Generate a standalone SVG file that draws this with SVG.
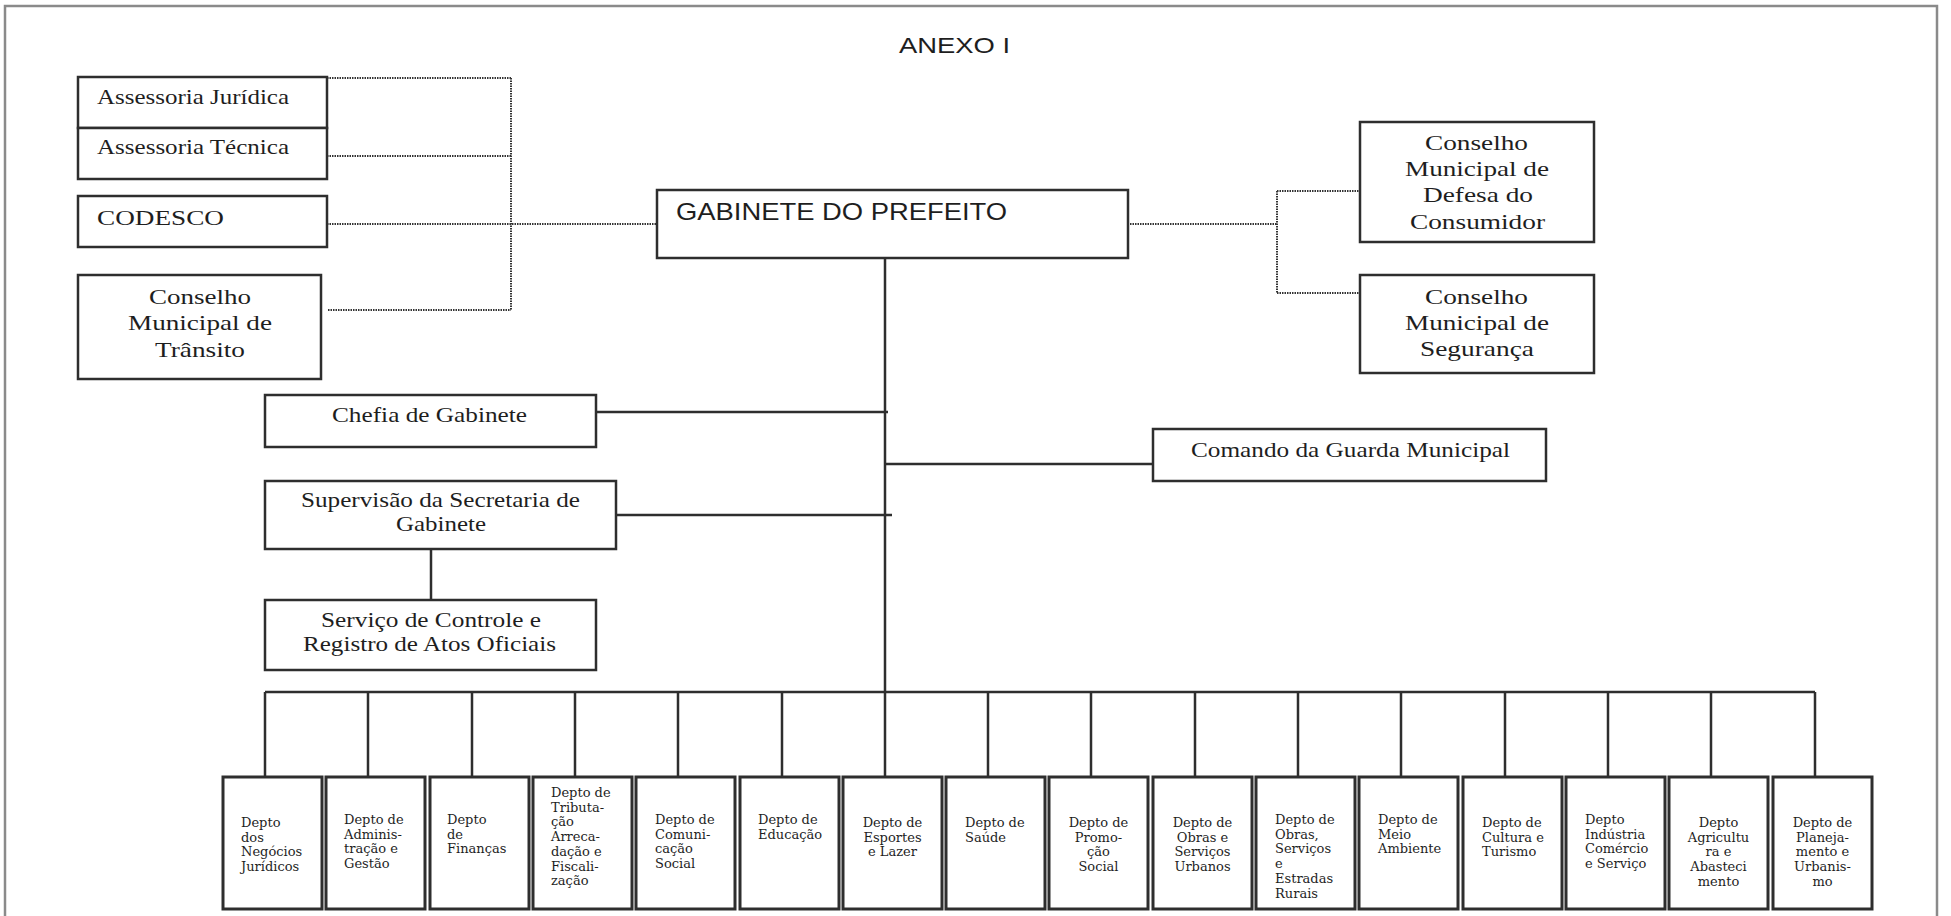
<svg xmlns="http://www.w3.org/2000/svg" width="1951" height="916" viewBox="0 0 1951 916">
  <style>
    .box { fill: #fff; stroke: #2e2e2e; stroke-width: 2.5; }
    .dep { fill: #fff; stroke: #2e2e2e; stroke-width: 3; }
    .line { fill: none; stroke: #2e2e2e; stroke-width: 2.5; }
    .dot { fill: none; stroke: #333; stroke-width: 2; stroke-dasharray: 1.5 1; }
    .serif { font-family: "Liberation Serif", "Times New Roman", serif; font-size: 22px; fill: #1e1e1e; }
    .sans { font-family: "Liberation Sans", Arial, sans-serif; fill: #1e1e1e; }
    .small { font-family: "DejaVu Serif", serif; font-size: 13px; fill: #1e1e1e; }
    .frame { fill: none; stroke: #8a8a8a; stroke-width: 2.5; }
  </style>

  <rect class="frame" x="5" y="6" width="1932" height="920"/>
  <text class="sans" x="899" y="53" font-size="22" textLength="111" lengthAdjust="spacingAndGlyphs">ANEXO I</text>

  <!-- connectors -->
  <g id="connectors">
    <!-- advisory bodies (dotted) -->
    <path class="dot" d="M327 78 H511 M327 156 H511 M327 224 H657 M328 310 H511 M511 78 V310"/>
    <path class="dot" d="M1130 224 H1277 M1277 191 V293 M1277 191 H1360 M1277 293 H1360"/>
    <!-- main trunk -->
    <path class="line" d="M885 258 V692"/>
    <path class="line" d="M596 412 H888"/>
    <path class="line" d="M885 464 H1153"/>
    <path class="line" d="M616 515 H892"/>
    <path class="line" d="M431 549 V600"/>
    <!-- department bus -->
    <path class="line" d="M265 692 H1815"/>
    <path class="line" d="M265 692 V777 M368 692 V777 M472 692 V777 M575 692 V777 M678 692 V777 M782 692 V777 M885 692 V777 M988 692 V777 M1091 692 V777 M1195 692 V777 M1298 692 V777 M1401 692 V777 M1505 692 V777 M1608 692 V777 M1711 692 V777 M1815 692 V777"/>
  </g>

  <!-- upper nodes -->
  <g id="assessoria-juridica">
    <rect class="box" x="78" y="77" width="249" height="51"/>
    <text class="serif" x="97" y="104" textLength="192" lengthAdjust="spacingAndGlyphs">Assessoria Jurídica</text>
  </g>
  <g id="assessoria-tecnica">
    <rect class="box" x="78" y="128" width="249" height="51"/>
    <text class="serif" x="97" y="154" textLength="192" lengthAdjust="spacingAndGlyphs">Assessoria Técnica</text>
  </g>
  <g id="codesco">
    <rect class="box" x="78" y="196" width="249" height="51"/>
    <text class="serif" x="97" y="225" textLength="127" lengthAdjust="spacingAndGlyphs">CODESCO</text>
  </g>
  <g id="conselho-transito">
    <rect class="box" x="78" y="275" width="243" height="104"/>
    <text class="serif" x="149" y="304" textLength="102" lengthAdjust="spacingAndGlyphs">Conselho</text>
    <text class="serif" x="128" y="330" textLength="144" lengthAdjust="spacingAndGlyphs">Municipal de</text>
    <text class="serif" x="155" y="357" textLength="90" lengthAdjust="spacingAndGlyphs">Trânsito</text>
  </g>
  <g id="gabinete-prefeito">
    <rect class="box" x="657" y="190" width="471" height="68"/>
    <text class="sans" x="676" y="220" font-size="24" textLength="331" lengthAdjust="spacingAndGlyphs">GABINETE DO PREFEITO</text>
  </g>
  <g id="conselho-consumidor">
    <rect class="box" x="1360" y="122" width="234" height="120"/>
    <text class="serif" x="1425" y="150" textLength="103" lengthAdjust="spacingAndGlyphs">Conselho</text>
    <text class="serif" x="1405" y="176" textLength="144" lengthAdjust="spacingAndGlyphs">Municipal de</text>
    <text class="serif" x="1423" y="202" textLength="110" lengthAdjust="spacingAndGlyphs">Defesa do</text>
    <text class="serif" x="1410" y="229" textLength="135" lengthAdjust="spacingAndGlyphs">Consumidor</text>
  </g>
  <g id="conselho-seguranca">
    <rect class="box" x="1360" y="275" width="234" height="98"/>
    <text class="serif" x="1425" y="304" textLength="103" lengthAdjust="spacingAndGlyphs">Conselho</text>
    <text class="serif" x="1405" y="330" textLength="144" lengthAdjust="spacingAndGlyphs">Municipal de</text>
    <text class="serif" x="1420" y="356" textLength="114" lengthAdjust="spacingAndGlyphs">Segurança</text>
  </g>
  <g id="chefia-gabinete">
    <rect class="box" x="265" y="395" width="331" height="52"/>
    <text class="serif" x="332" y="422" textLength="195" lengthAdjust="spacingAndGlyphs">Chefia de Gabinete</text>
  </g>
  <g id="comando-guarda">
    <rect class="box" x="1153" y="429" width="393" height="52"/>
    <text class="serif" x="1191" y="457" font-size="23" textLength="319" lengthAdjust="spacingAndGlyphs">Comando da Guarda Municipal</text>
  </g>
  <g id="supervisao-secretaria">
    <rect class="box" x="265" y="481" width="351" height="68"/>
    <text class="serif" x="301" y="507" textLength="279" lengthAdjust="spacingAndGlyphs">Supervisão da Secretaria de</text>
    <text class="serif" x="396" y="531" textLength="90" lengthAdjust="spacingAndGlyphs">Gabinete</text>
  </g>
  <g id="servico-controle">
    <rect class="box" x="265" y="600" width="331" height="70"/>
    <text class="serif" x="321" y="627" textLength="220" lengthAdjust="spacingAndGlyphs">Serviço de Controle e</text>
    <text class="serif" x="303" y="651" textLength="253" lengthAdjust="spacingAndGlyphs">Registro de Atos Oficiais</text>
  </g>

  <!-- departments -->
  <g id="depto-negocios-juridicos">
    <rect class="dep" x="223" y="777" width="99" height="132"/>
    <text class="small" x="241" y="827"><tspan x="241">Depto</tspan><tspan x="241" dy="14.7">dos</tspan><tspan x="241" dy="14.7">Negócios</tspan><tspan x="241" dy="14.7">Jurídicos</tspan></text>
  </g>
  <g id="depto-administracao">
    <rect class="dep" x="326" y="777" width="99" height="132"/>
    <text class="small" x="344" y="824"><tspan x="344">Depto de</tspan><tspan x="344" dy="14.7">Adminis-</tspan><tspan x="344" dy="14.7">tração e</tspan><tspan x="344" dy="14.7">Gestão</tspan></text>
  </g>
  <g id="depto-financas">
    <rect class="dep" x="430" y="777" width="99" height="132"/>
    <text class="small" x="447" y="824"><tspan x="447">Depto</tspan><tspan x="447" dy="14.7">de</tspan><tspan x="447" dy="14.7">Finanças</tspan></text>
  </g>
  <g id="depto-tributacao">
    <rect class="dep" x="533" y="777" width="99" height="132"/>
    <text class="small" x="551" y="797"><tspan x="551">Depto de</tspan><tspan x="551" dy="14.7">Tributa-</tspan><tspan x="551" dy="14.7">ção</tspan><tspan x="551" dy="14.7">Arreca-</tspan><tspan x="551" dy="14.7">dação e</tspan><tspan x="551" dy="14.7">Fiscali-</tspan><tspan x="551" dy="14.7">zação</tspan></text>
  </g>
  <g id="depto-comunicacao">
    <rect class="dep" x="636" y="777" width="99" height="132"/>
    <text class="small" x="655" y="824"><tspan x="655">Depto de</tspan><tspan x="655" dy="14.7">Comuni-</tspan><tspan x="655" dy="14.7">cação</tspan><tspan x="655" dy="14.7">Social</tspan></text>
  </g>
  <g id="depto-educacao">
    <rect class="dep" x="740" y="777" width="99" height="132"/>
    <text class="small" x="758" y="824"><tspan x="758">Depto de</tspan><tspan x="758" dy="14.7">Educação</tspan></text>
  </g>
  <g id="depto-esportes">
    <rect class="dep" x="843" y="777" width="99" height="132"/>
    <text class="small" text-anchor="middle" x="892.5" y="827"><tspan x="892.5">Depto de</tspan><tspan x="892.5" dy="14.7">Esportes</tspan><tspan x="892.5" dy="14.7">e Lazer</tspan></text>
  </g>
  <g id="depto-saude">
    <rect class="dep" x="946" y="777" width="99" height="132"/>
    <text class="small" x="965" y="827"><tspan x="965">Depto de</tspan><tspan x="965" dy="14.7">Saúde</tspan></text>
  </g>
  <g id="depto-promocao-social">
    <rect class="dep" x="1049" y="777" width="99" height="132"/>
    <text class="small" text-anchor="middle" x="1098.5" y="827"><tspan x="1098.5">Depto de</tspan><tspan x="1098.5" dy="14.7">Promo-</tspan><tspan x="1098.5" dy="14.7">ção</tspan><tspan x="1098.5" dy="14.7">Social</tspan></text>
  </g>
  <g id="depto-obras-urbanos">
    <rect class="dep" x="1153" y="777" width="99" height="132"/>
    <text class="small" text-anchor="middle" x="1202.5" y="827"><tspan x="1202.5">Depto de</tspan><tspan x="1202.5" dy="14.7">Obras e</tspan><tspan x="1202.5" dy="14.7">Serviços</tspan><tspan x="1202.5" dy="14.7">Urbanos</tspan></text>
  </g>
  <g id="depto-obras-rurais">
    <rect class="dep" x="1256" y="777" width="99" height="132"/>
    <text class="small" x="1275" y="824"><tspan x="1275">Depto de</tspan><tspan x="1275" dy="14.7">Obras,</tspan><tspan x="1275" dy="14.7">Serviços</tspan><tspan x="1275" dy="14.7">e</tspan><tspan x="1275" dy="14.7">Estradas</tspan><tspan x="1275" dy="14.7">Rurais</tspan></text>
  </g>
  <g id="depto-meio-ambiente">
    <rect class="dep" x="1359" y="777" width="99" height="132"/>
    <text class="small" x="1378" y="824"><tspan x="1378">Depto de</tspan><tspan x="1378" dy="14.7">Meio</tspan><tspan x="1378" dy="14.7">Ambiente</tspan></text>
  </g>
  <g id="depto-cultura">
    <rect class="dep" x="1463" y="777" width="99" height="132"/>
    <text class="small" x="1482" y="827"><tspan x="1482">Depto de</tspan><tspan x="1482" dy="14.7">Cultura e</tspan><tspan x="1482" dy="14.7">Turismo</tspan></text>
  </g>
  <g id="depto-industria">
    <rect class="dep" x="1566" y="777" width="99" height="132"/>
    <text class="small" x="1585" y="824"><tspan x="1585">Depto</tspan><tspan x="1585" dy="14.7">Indústria</tspan><tspan x="1585" dy="14.7">Comércio</tspan><tspan x="1585" dy="14.7">e Serviço</tspan></text>
  </g>
  <g id="depto-agricultura">
    <rect class="dep" x="1669" y="777" width="99" height="132"/>
    <text class="small" text-anchor="middle" x="1718.5" y="827"><tspan x="1718.5">Depto</tspan><tspan x="1718.5" dy="14.7">Agricultu</tspan><tspan x="1718.5" dy="14.7">ra e</tspan><tspan x="1718.5" dy="14.7">Abasteci</tspan><tspan x="1718.5" dy="14.7">mento</tspan></text>
  </g>
  <g id="depto-planejamento">
    <rect class="dep" x="1773" y="777" width="99" height="132"/>
    <text class="small" text-anchor="middle" x="1822.5" y="827"><tspan x="1822.5">Depto de</tspan><tspan x="1822.5" dy="14.7">Planeja-</tspan><tspan x="1822.5" dy="14.7">mento e</tspan><tspan x="1822.5" dy="14.7">Urbanis-</tspan><tspan x="1822.5" dy="14.7">mo</tspan></text>
  </g>
</svg>
